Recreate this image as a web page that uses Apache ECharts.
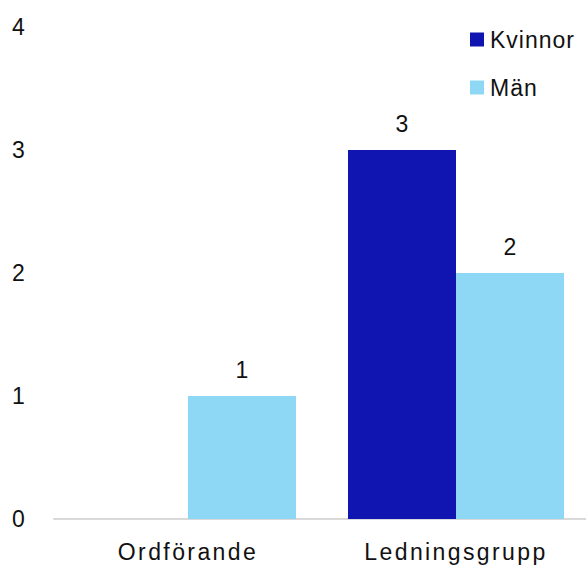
<!DOCTYPE html>
<html>
<head>
<meta charset="utf-8">
<style>
  html, body { margin: 0; padding: 0; background: #fff; }
  #chart { width: 586px; height: 565px; }
</style>
<script src="https://cdn.jsdelivr.net/npm/echarts@6/dist/echarts.min.js"></script>
</head>
<body>
<div id="chart"></div>
<script>
// Board composition by gender
const categories = ['Ordförande', 'Ledningsgrupp'];
const seriesNames = ['Kvinnor', 'Män'];
const kvinnor = [0, 3];
const man = [1, 2];
const yTicks = { min: 0, max: 4, interval: 1 };

const FONT = '"Liberation Sans", Arial, Helvetica, sans-serif';
const TEXT = '#111';
const FS = 23;

const chart = echarts.init(document.getElementById('chart'), null, { renderer: 'svg' });

function label(v) {
  return v.value === 0 ? '' : String(v.value);
}

function barLabel() {
  return { show: true, position: 'top', distance: 15, fontSize: FS, color: TEXT, formatter: label, fontFamily: FONT };
}

chart.setOption({
  animation: false,
  textStyle: { fontFamily: FONT },
  grid: { left: 54, width: 536, top: 27, height: 492, containLabel: false, outerBoundsMode: 'none' },
  legend: {
    orient: 'vertical',
    left: 470,
    top: 28,
    padding: 0,
    itemWidth: 14,
    itemHeight: 14,
    itemGap: 25,
    icon: 'rect',
    textStyle: { fontSize: FS, color: TEXT, fontFamily: FONT, padding: [0, 0, 0, 1] },
    data: seriesNames
  },
  xAxis: {
    type: 'category',
    data: categories,
    axisLine: { lineStyle: { color: '#d9d9d9', width: 2 } },
    axisTick: { show: false },
    axisLabel: { fontSize: FS, color: TEXT, margin: 21, fontFamily: FONT }
  },
  yAxis: {
    type: 'value',
    min: yTicks.min,
    max: yTicks.max,
    interval: yTicks.interval,
    axisLine: { show: false },
    axisTick: { show: false },
    splitLine: { show: false },
    axisLabel: { fontSize: FS, color: TEXT, align: 'left', margin: 42, fontFamily: FONT }
  },
  series: [
    {
      name: seriesNames[0],
      type: 'bar',
      data: kvinnor,
      itemStyle: { color: '#1014b0' },
      barGap: '0%',
      barCategoryGap: '19.4%',
      label: barLabel()
    },
    {
      name: seriesNames[1],
      type: 'bar',
      data: man,
      itemStyle: { color: '#8fd8f5' },
      barGap: '0%',
      barCategoryGap: '19.4%',
      label: barLabel()
    }
  ]
});

// Wider tracking for the category and legend texts
function track() {
  document.querySelectorAll('#chart svg text').forEach(function (t) {
    const s = t.textContent;
    if (categories.indexOf(s) >= 0) t.style.letterSpacing = '2.4px';
    else if (seriesNames.indexOf(s) >= 0) t.style.letterSpacing = '1px';
  });
}
track();
chart.on('finished', track);
</script>
</body>
</html>
